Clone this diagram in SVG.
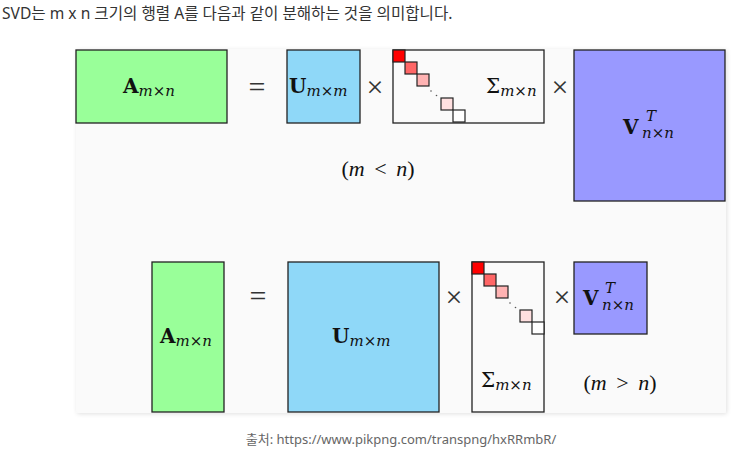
<svg xmlns="http://www.w3.org/2000/svg" width="740" height="452" viewBox="0 0 740 452">
<defs>
<filter id="sh" x="-5%" y="-5%" width="110%" height="110%">
<feDropShadow dx="1" dy="1" stdDeviation="2" flood-color="#000" flood-opacity="0.12"/>
</filter>
</defs>
<style>
.hdr{font-family:"Noto Sans","Noto Sans CJK KR",sans-serif;font-size:15.6px;fill:#333}
.cap{font-family:"Noto Sans","Noto Sans CJK KR",sans-serif;font-size:13px;fill:#666}
.box{stroke:#222;stroke-width:1.3}
.sq{stroke:#222;stroke-width:1.2}
.m{font-family:"DejaVu Serif","Liberation Serif",serif;fill:#111}
.big{font-size:20px;font-weight:bold}
.sub{font-size:15px;font-style:italic;font-weight:normal}
.op{font-family:"Liberation Serif",serif;font-size:30px;fill:#333}
.par{font-family:"Liberation Serif",serif;font-size:22px;fill:#111;word-spacing:4px}
.dot{fill:#555}
</style>
<rect width="740" height="452" fill="#ffffff"/>
<text class="hdr" x="2" y="19">SVD는 m x n 크기의 행렬 A를 다음과 같이 분해하는 것을 의미합니다.</text>
<rect x="76" y="49" width="650" height="364" rx="2" fill="#fafafa" filter="url(#sh)"/>

<g id="top-A">
<rect class="box" x="76" y="50" width="151" height="73" fill="#99ff99"/>
<text class="m big" x="123" y="93">A<tspan class="sub" dy="3">m×n</tspan></text>
</g>
<g id="top-eq"><text class="op" x="257" y="97" text-anchor="middle">=</text></g>
<g id="top-U">
<rect class="box" x="287" y="50" width="73" height="73" fill="#8fd8f8"/>
<text class="m big" x="289" y="93">U<tspan class="sub" dy="3" font-size="14">m×m</tspan></text>
</g>
<g id="top-x1"><text class="op" x="375" y="97" text-anchor="middle">×</text></g>
<g id="top-S">
<rect class="box" x="393" y="50" width="151" height="73" fill="#fafafa"/>
<rect class="sq" x="393" y="50" width="12" height="12" fill="#ff0000"/>
<rect class="sq" x="405" y="62" width="12" height="12" fill="#ff6666"/>
<rect class="sq" x="417" y="74" width="12" height="12" fill="#ffb3b3"/>
<circle class="dot" cx="431" cy="91" r="0.8"/>
<circle class="dot" cx="436.5" cy="95.5" r="0.8"/>
<rect class="sq" x="441" y="98" width="12" height="12" fill="#ffe0e0"/>
<rect class="sq" x="453" y="110" width="12" height="12" fill="#ffffff"/>
<text class="m" x="486" y="93" font-size="20">Σ<tspan class="sub" dy="3">m×n</tspan></text>
</g>
<g id="top-x2"><text class="op" x="560" y="97" text-anchor="middle">×</text></g>
<g id="top-V">
<rect class="box" x="574" y="50" width="151" height="151" fill="#9999ff"/>
<text class="m big" x="623" y="134">V</text>
<text class="m sub" x="646" y="121">T</text>
<text class="m sub" x="642" y="138">n×n</text>
</g>
<g id="top-cond"><text class="par" x="378" y="176" text-anchor="middle"><tspan>(</tspan><tspan font-style="italic">m</tspan> &lt; <tspan font-style="italic">n</tspan>)</text></g>

<g id="bot-A">
<rect class="box" x="152" y="262" width="72" height="150" fill="#99ff99"/>
<text class="m big" x="160" y="343">A<tspan class="sub" dy="3">m×n</tspan></text>
</g>
<g id="bot-eq"><text class="op" x="258" y="306" text-anchor="middle">=</text></g>
<g id="bot-U">
<rect class="box" x="288" y="262" width="151" height="150" fill="#8fd8f8"/>
<text class="m big" x="332" y="343">U<tspan class="sub" dy="3">m×m</tspan></text>
</g>
<g id="bot-x1"><text class="op" x="454" y="307" text-anchor="middle">×</text></g>
<g id="bot-S">
<rect class="box" x="472" y="262" width="72" height="150" fill="#fafafa"/>
<rect class="sq" x="472" y="262" width="12" height="12" fill="#ff0000"/>
<rect class="sq" x="484" y="274" width="12" height="12" fill="#ff6666"/>
<rect class="sq" x="496" y="286" width="12" height="12" fill="#ffb3b3"/>
<circle class="dot" cx="510" cy="303" r="0.8"/>
<circle class="dot" cx="515.5" cy="307.5" r="0.8"/>
<rect class="sq" x="520" y="310" width="12" height="12" fill="#ffe0e0"/>
<rect class="sq" x="532" y="322" width="12" height="12" fill="#ffffff"/>
<text class="m" x="481" y="387" font-size="20">Σ<tspan class="sub" dy="3">m×n</tspan></text>
</g>
<g id="bot-x2"><text class="op" x="562" y="307" text-anchor="middle">×</text></g>
<g id="bot-V">
<rect class="box" x="574" y="262" width="73" height="72" fill="#9999ff"/>
<text class="m big" x="583" y="305">V</text>
<text class="m sub" x="605" y="293">T</text>
<text class="m sub" x="602" y="310">n×n</text>
</g>
<g id="bot-cond"><text class="par" x="620" y="390" text-anchor="middle"><tspan>(</tspan><tspan font-style="italic">m</tspan> &gt; <tspan font-style="italic">n</tspan>)</text></g>

<text class="cap" x="401" y="444" text-anchor="middle">출처: https://www.pikpng.com/transpng/hxRRmbR/</text>
</svg>
